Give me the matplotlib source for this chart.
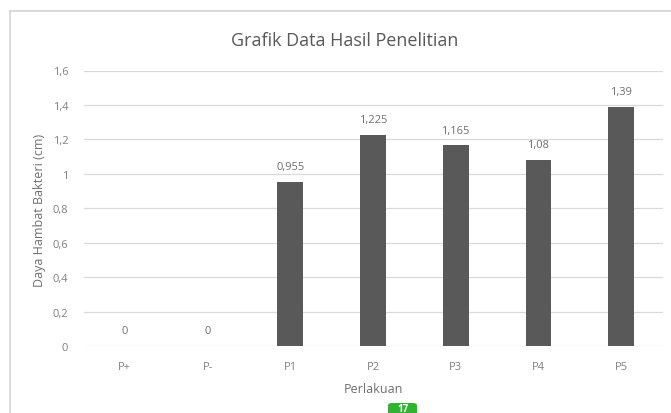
import matplotlib
matplotlib.use("Agg")
import matplotlib.pyplot as plt
from matplotlib.patches import FancyBboxPatch
from matplotlib.lines import Line2D

categories = ["P+", "P-", "P1", "P2", "P3", "P4", "P5"]
values = [0, 0, 0.955, 1.225, 1.165, 1.08, 1.39]
value_labels = ["0", "0", "0,955", "1,225", "1,165", "1,08", "1,39"]
yticks = [0, 0.2, 0.4, 0.6, 0.8, 1.0, 1.2, 1.4, 1.6]
ytick_labels = ["0", "0,2", "0,4", "0,6", "0,8", "1", "1,2", "1,4", "1,6"]

plt.rcParams['font.family'] = ['Open Sans', 'DejaVu Sans']

W, H = 671, 414
fig = plt.figure(figsize=(W / 100, H / 100), dpi=100)
fig.patch.set_facecolor("white")

def fx(px):
    return px / W

def fy(py):
    return 1 - py / H

left, right, top, bottom = 83.5, 662.5, 71.5, 347
ax = fig.add_axes([fx(left), fy(bottom), fx(right) - fx(left), fy(top) - fy(bottom)])

x = list(range(len(categories)))
bars = ax.bar(x, values, width=0.31, color="#595959", zorder=3)
ax.set_xlim(-0.5, len(categories) - 0.5)
ax.set_ylim(0, 1.6)
ax.set_yticks(yticks)
ax.set_yticklabels(ytick_labels)
ax.set_xticks(x)
ax.set_xticklabels(categories)
ax.grid(axis="y", color="#d9d9d9", linewidth=0.9, zorder=0)
ax.tick_params(axis="both", length=0, labelsize=8, labelcolor="#808080")
ax.tick_params(axis="y", pad=11)
ax.tick_params(axis="x", pad=11)
for s in ax.spines.values():
    s.set_visible(False)

for b, lab in zip(bars, value_labels):
    ax.annotate(lab, (b.get_x() + b.get_width() / 2, b.get_height()),
                xytext=(0, 11), textcoords="offset points", ha="center", va="center",
                fontsize=8, color="#6f6f6f")

fig.text(fx(345), fy(41), "Grafik Data Hasil Penelitian", ha="center", va="center",
         fontsize=13, color="#595959")
fig.text(fx(40), fy(210), "Daya Hambat Bakteri (cm)", ha="center", va="center",
         rotation=90, fontsize=9, color="#6f6f6f")
fig.text(fx(373), fy(390), "Perlakuan", ha="center", va="center",
         fontsize=9, color="#6f6f6f")

# chart border (left & top visible)
fig.add_artist(Line2D([fx(10), fx(10)], [fy(12), 0], color="#d4d4d4", linewidth=1.2))
fig.add_artist(Line2D([fx(10), 1], [fy(12), fy(12)], color="#d4d4d4", linewidth=1.2))

# page badge
badge = FancyBboxPatch((fx(388), fy(432)), fx(417) - fx(388), fy(404) - fy(432),
                       boxstyle="round,pad=0,rounding_size=0.006",
                       transform=fig.transFigure, facecolor="#2db52d", edgecolor="none")
fig.add_artist(badge)
fig.text(fx(402.5), fy(409.5), "17", ha="center", va="center", fontsize=7,
         color="white", fontweight="bold")

fig.savefig("out.png", dpi=100)
